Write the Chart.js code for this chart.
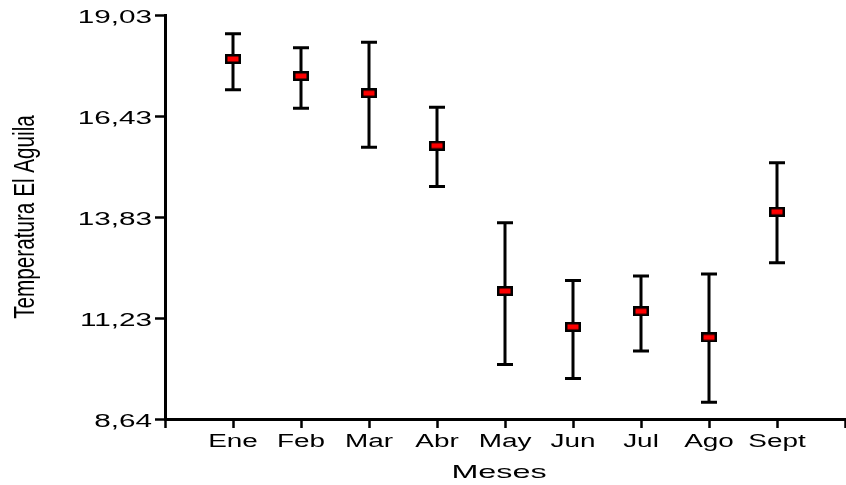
<!DOCTYPE html>
<html>
<head>
<meta charset="utf-8">
<title>Temperatura El Aguila</title>
<script src="https://cdn.jsdelivr.net/npm/chart.js@4.4.1/dist/chart.umd.min.js"></script>
<style>
  html, body { margin: 0; padding: 0; background: #fff; }
  #wrap { width: 846px; height: 485px; }
</style>
</head>
<body>
<div id="wrap"><canvas id="myChart"></canvas></div>
<script>
  // Data
  const months = ['Ene', 'Feb', 'Mar', 'Abr', 'May', 'Jun', 'Jul', 'Ago', 'Sept'];
  const meanTemp = [17.90, 17.46, 17.02, 15.67, 11.93, 11.01, 11.41, 10.74, 13.97];
  const upperTemp = [18.55, 18.19, 18.33, 16.66, 13.69, 12.20, 12.32, 12.37, 15.23];
  const lowerTemp = [17.11, 16.63, 15.63, 14.62, 10.04, 9.68, 10.39, 9.07, 12.66];
  const yTickValues = [8.64, 11.2375, 13.835, 16.4325, 19.03];
  const yTickLabels = ['8,64', '11,23', '13,83', '16,43', '19,03'];

  const FONT = '"Liberation Sans", Arial, sans-serif';

  // red rectangle marker with black border
  function makeMarker() {
    const c = document.createElement('canvas');
    c.width = 16;
    c.height = 10;
    const g = c.getContext('2d');
    g.fillStyle = '#000';
    g.fillRect(0, 0, 16, 10);
    g.fillStyle = '#ff0000';
    g.fillRect(2.5, 2.5, 11, 5);
    return c;
  }

  // error bars, drawn under the markers
  const errorBars = {
    id: 'errorBars',
    beforeDatasetsDraw(chart) {
      const ctx = chart.ctx;
      const xs = chart.scales.x, ys = chart.scales.y;
      ctx.save();
      ctx.strokeStyle = '#000';
      ctx.lineWidth = 3;
      for (let i = 0; i < months.length; i++) {
        const x = xs.getPixelForValue(i + 1);
        const yTop = ys.getPixelForValue(upperTemp[i]);
        const yBot = ys.getPixelForValue(lowerTemp[i]);
        ctx.beginPath();
        ctx.moveTo(x, yTop);
        ctx.lineTo(x, yBot);
        ctx.moveTo(x - 8, yTop);
        ctx.lineTo(x + 8, yTop);
        ctx.moveTo(x - 8, yBot);
        ctx.lineTo(x + 8, yBot);
        ctx.stroke();
      }
      ctx.restore();
    }
  };

  // stretched text like the original export
  function stretchText(ctx, text, x, y, sx, align) {
    ctx.save();
    ctx.translate(x, y);
    ctx.scale(sx, 1);
    ctx.textAlign = align;
    ctx.fillText(text, 0, 0);
    ctx.restore();
  }

  const axisText = {
    id: 'axisText',
    afterDraw(chart) {
      const ctx = chart.ctx;
      const xs = chart.scales.x, ys = chart.scales.y;
      ctx.save();
      ctx.fillStyle = '#000';
      ctx.textBaseline = 'alphabetic';

      // y tick labels
      ctx.font = '18px ' + FONT;
      yTickValues.forEach((v, i) => {
        stretchText(ctx, yTickLabels[i], 152, ys.getPixelForValue(v) + 7.5, 1.65, 'right');
      });

      // x tick labels
      months.forEach((m, i) => {
        stretchText(ctx, m, xs.getPixelForValue(i + 1), 447, 1.55, 'center');
      });

      // x title
      ctx.font = '19px ' + FONT;
      stretchText(ctx, 'Meses', (xs.left + xs.right) / 2 - 6, 478, 1.7, 'center');

      // y title
      ctx.font = '30px ' + FONT;
      ctx.translate(34, (ys.top + ys.bottom) / 2);
      ctx.rotate(-Math.PI / 2);
      ctx.scale(0.69, 1);
      ctx.textAlign = 'center';
      ctx.fillText('Temperatura El Aguila', 0, 0);
      ctx.restore();
    }
  };

  const points = meanTemp.map((v, i) => ({ x: i + 1, y: v }));

  const config = {
    type: 'scatter',
    data: {
      datasets: [{
        label: 'Temperatura',
        data: points,
        pointStyle: makeMarker(),
        pointRadius: 8,
        pointHoverRadius: 8
      }]
    },
    options: {
      responsive: true,
      maintainAspectRatio: false,
      animation: false,
      layout: { autoPadding: false, padding: { top: 15, right: 1, left: 0, bottom: 0 } },
      plugins: {
        legend: { display: false },
        tooltip: { enabled: false }
      },
      scales: {
        x: {
          type: 'linear',
          min: 0,
          max: 10,
          afterBuildTicks(scale) {
            const t = [];
            for (let i = 0; i <= 10; i++) t.push({ value: i });
            scale.ticks = t;
          },
          afterFit(scale) { scale.height = 66; },
          ticks: { display: false },
          grid: { drawOnChartArea: false, drawTicks: true, tickLength: 9, tickColor: '#000', tickWidth: 2.5 },
          border: { display: true, color: '#000', width: 3 }
        },
        y: {
          min: 8.64,
          max: 19.03,
          afterBuildTicks(scale) {
            scale.ticks = yTickValues.map(v => ({ value: v }));
          },
          afterFit(scale) { scale.width = 165; },
          ticks: { display: false },
          grid: { drawOnChartArea: false, drawTicks: true, tickLength: 10, tickColor: '#000', tickWidth: 2.5 },
          border: { display: true, color: '#000', width: 3 }
        }
      }
    },
    plugins: [errorBars, axisText]
  };

  const ctx = document.getElementById('myChart').getContext('2d');
  const myChart = new Chart(ctx, config);
</script>
</body>
</html>
